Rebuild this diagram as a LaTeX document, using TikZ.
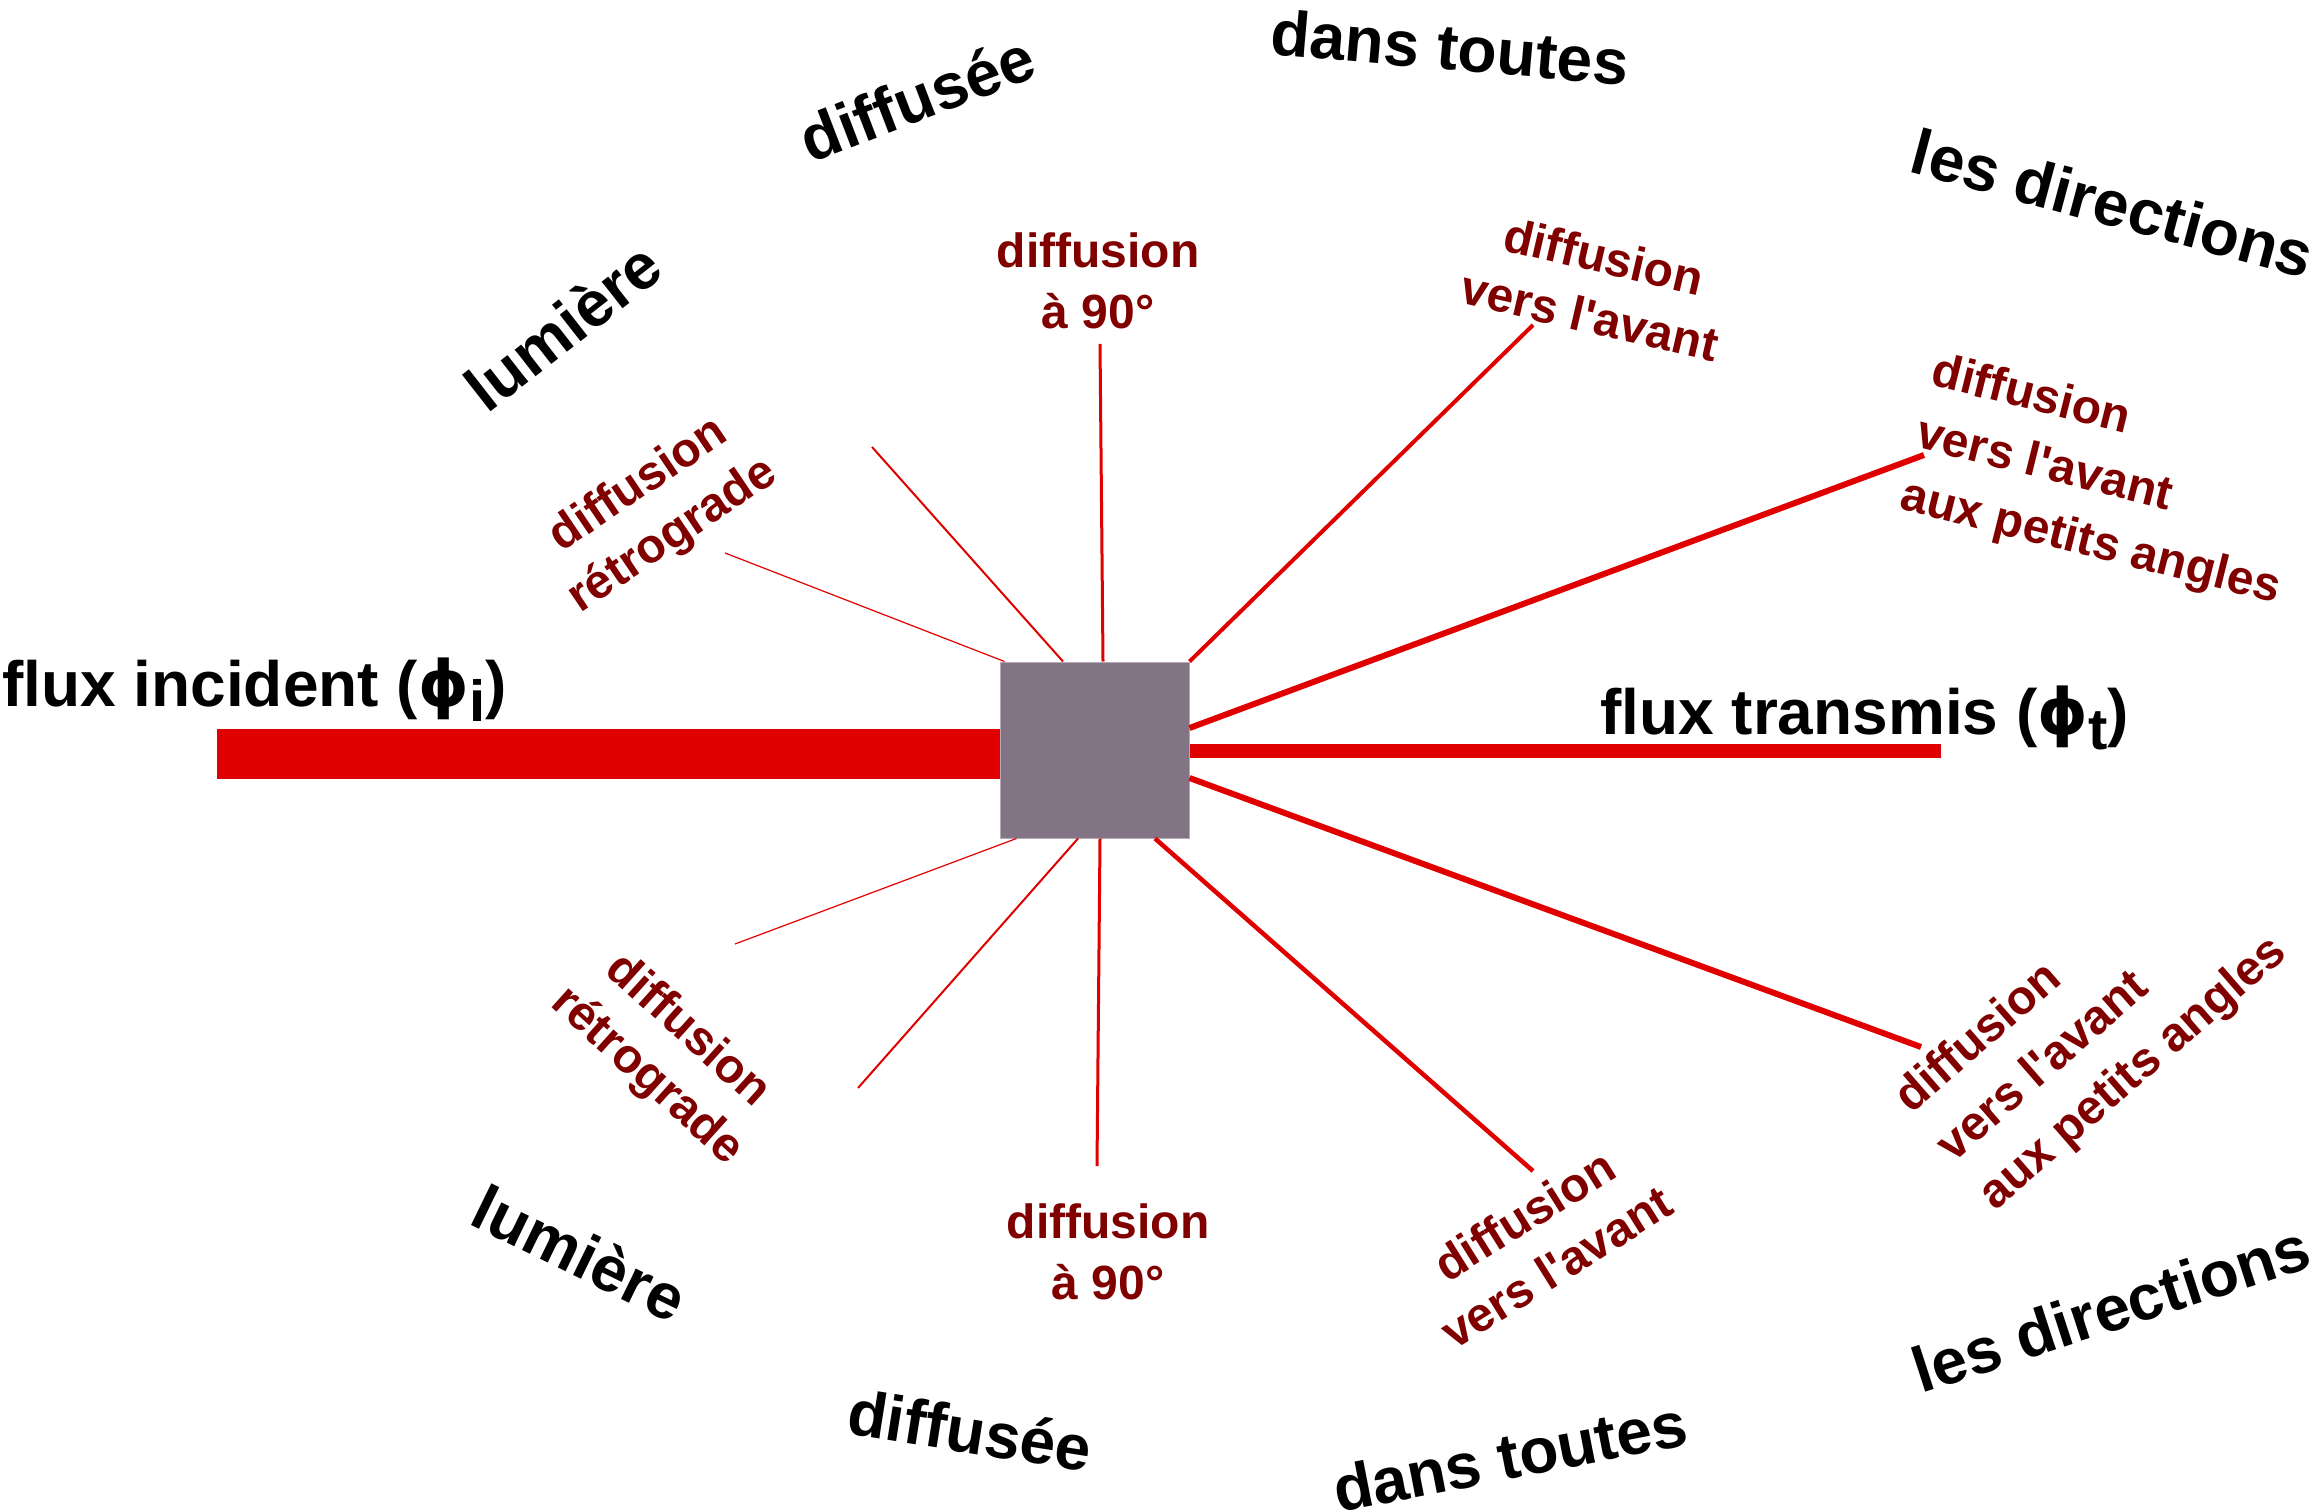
\documentclass[tikz,border=0pt]{standalone}
\usepackage{fontspec}
\setmainfont{Liberation Sans}
\newfontfamily\lsans{Liberation Sans}
\newfontfamily\djv{DejaVu Sans}
\usetikzlibrary{calc}
\definecolor{rayred}{HTML}{E00000}
\definecolor{labred}{HTML}{800000}
\definecolor{boxgray}{HTML}{827484}
\definecolor{boxedge}{HTML}{B4AAB4}
\newcommand\lowsub[1]{\raisebox{-0.24em}{\fontsize{58}{58}\selectfont #1}}
\newcommand\phisym{{\djv\bfseries ϕ}}
\tikzset{
  blk/.style={font=\lsans\fontsize{64}{70}\selectfont\bfseries, text=black, inner sep=0pt},
  rlab/.style={font=\lsans\fontsize{48}{61}\selectfont\bfseries, text=labred, inner sep=0pt, align=center},
  rlabl/.style={rlab, align=left},
  rlabw/.style={rlab, align=left, font=\lsans\fontsize{48}{64}\selectfont\bfseries},
  ray/.style={draw=rayred, line cap=butt},
  boxst/.style={rectangle, fill=boxgray, draw=boxedge, line width=1pt, minimum width=189pt, minimum height=176pt, inner sep=0pt},
}
\begin{document}
\begin{tikzpicture}[x=1pt,y=-1pt]
\useasboundingbox (0,0) rectangle (2315,1511);
% scattering cell
\node[boxst] (box) at (1094.5,750) {};
% free ends
\coordinate (inc) at (217,754);
\coordinate (tra) at (1941,751);
\coordinate (e1) at (1924,455);
\coordinate (e2) at (1921,1047);
\coordinate (e3) at (1533,325);
\coordinate (e4) at (1533,1171);
\coordinate (e5) at (1100,344);
\coordinate (e6) at (1097,1166);
\coordinate (e7) at (872,447);
\coordinate (e8) at (725,553);
\coordinate (e9) at (735,944);
\coordinate (e10) at (858,1088);
% beams
\draw[ray, line width=50pt] (inc) -- (inc -| box.west);
\draw[ray, line width=14pt] (tra -| box.east) -- (tra);
\draw[ray, line width=6pt] ($(box.east)+(0,-22)$) -- (e1);
\draw[ray, line width=6pt] ($(box.east)+(0,28)$) -- (e2);
\draw[ray, line width=4pt] (box.north east) -- (e3);
\draw[ray, line width=4.5pt] ($(box.south)+(60.5,0)$) -- (e4);
\draw[ray, line width=3pt] ($(box.north)+(8.5,0)$) -- (e5);
\draw[ray, line width=3pt] ($(box.south)+(5.5,0)$) -- (e6);
\draw[ray, line width=2pt] ($(box.north)+(-31.5,0)$) -- (e7);
\draw[ray, line width=1.2pt] ($(box.north west)+(5,0)$) -- (e8);
\draw[ray, line width=1.2pt] ($(box.south west)+(17,0)$) -- (e9);
\draw[ray, line width=2pt] ($(box.south)+(-16.5,0)$) -- (e10);
% flux labels
\node[blk, anchor=base west] (fin) at (2,706) {flux incident (\phisym\lowsub{i})};
\node[blk, anchor=base west] (ftr) at (1600,734) {flux transmis (\phisym\lowsub{t})};
% red labels
\node[rlab] (l90t) at (1098,281) {diffusion\\à 90°};
\node[rlab, rotate=-13] (lavt) at (1597,286) {diffusion\\vers l'avant};
\node[rlabw, rotate=-14] (lpat) at (2106,482) {diffusion\\vers l'avant\\aux petits angles};
\node[rlab, rotate=34] (lrtt) at (656,511) {diffusion\\rétrograde};
\node[rlab, rotate=-42] (lrtb) at (667,1054) {diffusion\\rétrograde};
\node[rlab] (l90b) at (1108,1252) {diffusion\\à 90°};
\node[rlab, rotate=32] (lavb) at (1540,1241) {diffusion\\vers l'avant};
\node[rlabw, rotate=41] (lpab) at (2092,1026) {diffusion\\vers l'avant\\aux petits angles};
% black circle of words
\node[blk, rotate=-5] (w1) at (1450,47) {dans toutes};
\node[blk, rotate=21] (w2) at (917,98) {diffusée};
\node[blk, rotate=38] (w3) at (563,326) {lumière};
\node[blk, rotate=-15] (w4) at (2113,203) {les directions};
\node[blk, rotate=-26] (w5) at (580,1253) {lumière};
\node[blk, rotate=-9] (w6) at (970,1430) {diffusée};
\node[blk, rotate=11] (w7) at (1510,1456) {dans toutes};
\node[blk, rotate=18] (w8) at (2111,1308) {les directions};
\end{tikzpicture}
\end{document}
